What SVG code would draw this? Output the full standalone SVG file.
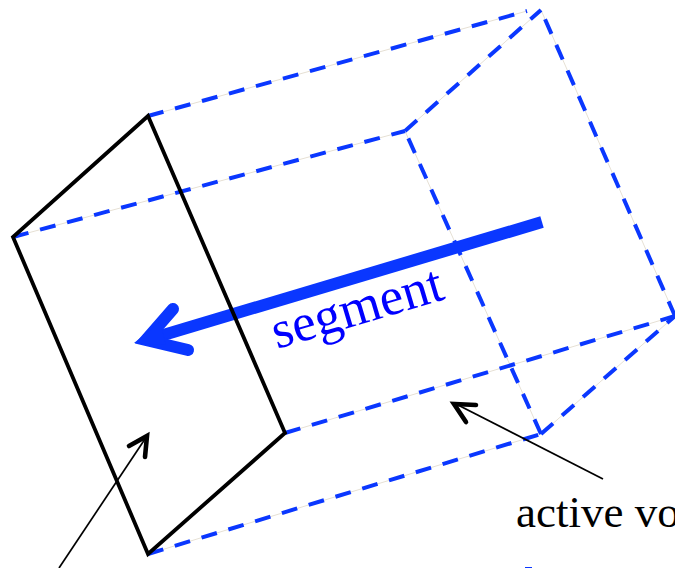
<svg xmlns="http://www.w3.org/2000/svg" width="675" height="568" viewBox="0 0 675 568">
<style>
.g{stroke:#e6e0d4;stroke-width:1;fill:none}
.d{stroke:#0a37ff;stroke-width:4;fill:none;stroke-dasharray:16 12}
.k{stroke:#000;stroke-width:3.8;fill:none;stroke-linejoin:miter}
.t{stroke:#000;stroke-width:1.7;fill:none}
.h{stroke:#000;stroke-width:4.6;fill:none;stroke-linecap:round}
text{font-family:"Liberation Serif","Times New Roman",serif}
</style>
<rect width="675" height="568" fill="#fff"/>
<g id="connectors">
<path class="g" d="M148 116L527 11M13 237L405 131M285 433L675 316M148 554L541 434M405 131L541 10M541 10L675 316M405 131L541 434M541 434L675 316"/>
<path class="d" d="M148 116L527 11"/>
<path class="d" d="M13 237L405 131"/>
<path class="d" d="M285 433L675 316"/>
<path class="d" d="M148 554L541 434"/>
<path class="d" d="M405 131L541 10"/>
<path class="d" d="M675 316L541 10"/>
<path class="d" d="M541 434L405 131"/>
<path class="d" d="M541 434L675 316"/>
<path class="t" d="M603 479L456 404"/>
<path class="h" d="M476 405L454 404L466 422"/>
<path class="t" d="M59 568L147 436"/>
<path class="h" d="M129 446L147 436L145 457"/>
<path d="M542 222L160 336" stroke="#0a37ff" stroke-width="12" fill="none"/>
<path d="M173 309L146 340L188 350" stroke="#0a37ff" stroke-width="12" fill="none" stroke-linecap="round"/>
<path d="M134 343L160 322L166 345Z" fill="#0a37ff"/>
</g>
<g id="face">
<path class="k" d="M148 116L13 237L148 554L285 433Z"/>
</g>
<g id="label-segment">
<text transform="translate(277 349) rotate(-16.5)" font-size="53" fill="#0000ff">segment</text>
</g>
<g id="label-active">
<text x="516" y="527" font-size="45" fill="#000">active vo</text>
</g>
<path d="M525 567h7v1h-7z" fill="#0a37ff"/>
</svg>
